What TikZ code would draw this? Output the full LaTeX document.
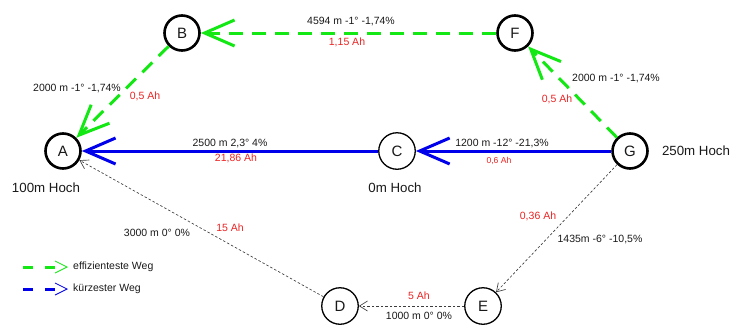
\documentclass[tikz,border=0pt]{standalone}
\usepackage{fontspec}
\setmainfont{Liberation Sans}
\usetikzlibrary{arrows.meta}
\definecolor{wayGreen}{RGB}{20,232,20}
\definecolor{wayBlue}{RGB}{0,0,235}
\definecolor{ahRed}{RGB}{235,35,35}
\definecolor{dotGray}{RGB}{60,60,60}
\definecolor{txt}{RGB}{25,25,25}
\begin{document}
\begin{tikzpicture}[x=1pt,y=-1pt,
  city/.style={circle, draw=black, line width=2.6pt, minimum size=35pt,
    inner sep=0pt, fill=white, text=txt, font=\fontsize{15}{15}\selectfont},
  town/.style={city, line width=1.3pt, minimum size=36.5pt},
  height/.style={text=txt, font=\fontsize{13.3}{13.3}\selectfont},
  lbl/.style={text=txt, inner sep=0pt, font=\fontsize{10.5}{10.5}\selectfont},
  ah/.style={text=ahRed, inner sep=0pt, font=\fontsize{10.5}{10.5}\selectfont},
  ahsmall/.style={ah, font=\fontsize{8.6}{8.6}\selectfont},
  bigbarb/.style={-{Straight Barb[length=30pt,width=26pt,line width=3pt]}},
  effweg/.style={draw=wayGreen, line width=3pt, dash pattern=on 14pt off 9pt, bigbarb},
  kurzweg/.style={draw=wayBlue, line width=3pt, bigbarb},
  dotweg/.style={draw=dotGray, line width=0.65pt, dash pattern=on 2.5pt off 2pt,
    -{Straight Barb[length=8pt,width=10pt,line width=0.65pt]}},
  legline/.style={line width=3pt, dash pattern=on 10pt off 12pt},
]
\useasboundingbox (0,0) rectangle (744,327);

% points of the route
\node[city] (A) at (63,151) {A};
\node[city] (B) at (182,33) {B};
\node[city] (F) at (515,33) {F};
\node[town] (C) at (397,151) {C};
\node[city] (G) at (630,151) {G};
\node[town] (D) at (340,306) {D};
\node[town] (E) at (483,306) {E};

% heights
\node[height] (hA) at (46,188) {100m Hoch};
\node[height] (hC) at (395,188) {0m Hoch};
\node[height] (hG) at (696,151) {250m Hoch};

% other connections
\draw[dotweg] (G) -- (E);
\draw[dotweg] (E) -- (D);
\draw[dotweg] (D) -- (A);

% shortest route
\draw[kurzweg] (G) -- (C);
\draw[kurzweg] (C) -- (A);

% most efficient route
\draw[effweg] (G) -- (F);
\draw[effweg] (F) -- (B);
\draw[effweg] (B) -- (A);

% edge labels
\node[lbl] (lFB) at (351,22) {4594 m -1° -1,74\%};
\node[ah]  (aFB) at (347,42) {1,15 Ah};
\node[lbl] (lBA) at (77,89) {2000 m -1° -1,74\%};
\node[ah]  (aBA) at (145,96) {0,5 Ah};
\node[lbl] (lGF) at (616,79) {2000 m -1° -1,74\%};
\node[ah]  (aGF) at (557,99) {0,5 Ah};
\node[lbl] (lCA) at (230,144) {2500 m 2,3° 4\%};
\node[ah]  (aCA) at (236,158) {21,86 Ah};
\node[lbl] (lGC) at (502,144) {1200 m -12° -21,3\%};
\node[ahsmall] (aGC) at (499,161) {0,6 Ah};
\node[lbl] (lDA) at (157,233) {3000 m 0° 0\%};
\node[ah]  (aDA) at (230,228) {15 Ah};
\node[ah]  (aGE) at (538,216) {0,36 Ah};
\node[lbl] (lGE) at (600,240) {1435m -6° -10,5\%};
\node[ah]  (aED) at (419,296) {5 Ah};
\node[lbl] (lED) at (419,316) {1000 m 0° 0\%};

% legend
\coordinate (g0) at (23,267);
\coordinate (g1) at (68,267);
\coordinate (b0) at (23,289);
\coordinate (b1) at (68,289);
\draw[legline, draw=wayGreen,
  -{Straight Barb[length=12pt,width=12pt,line width=0.8pt]}] (g0) -- (g1);
\draw[legline, draw=wayBlue,
  -{Straight Barb[length=12pt,width=12pt,line width=0.8pt]}] (b0) -- (b1);
\node[lbl, anchor=west] (tg) at (73,267) {effizienteste Weg};
\node[lbl, anchor=west] (tb) at (73,289) {kürzester Weg};
\end{tikzpicture}
\end{document}
